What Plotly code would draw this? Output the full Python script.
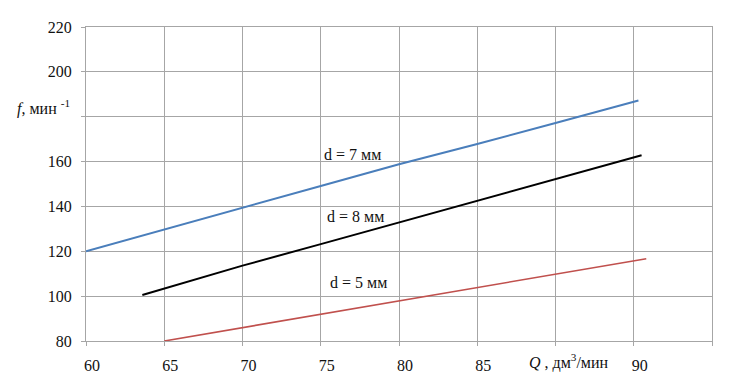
import plotly.graph_objects as go

# Data (x in grid units of the horizontal axis, y in min^-1)
q_d7 = [60, 65, 70, 75, 80, 85, 90, 95.3]
f_d7 = [120, 129.8, 139.5, 149.1, 158.8, 167.8, 177.2, 187.2]

q_d8 = [63.6, 70, 75, 80, 85, 90, 95.5]
f_d8 = [100.5, 113.6, 123.2, 132.8, 142.6, 152.1, 162.8]

q_d5 = [65, 70, 75, 80, 85, 90, 95.8]
f_d5 = [80, 86.0, 92.0, 98.0, 104.0, 109.9, 116.7]

x_tickvals = [60, 65, 70, 75, 80, 85, 90, 95, 100]
x_ticktext = ["60", "65", "70", "75", "80", "85", "", "90", ""]
y_tickvals = [80, 100, 120, 140, 160, 180, 200, 220]
y_ticktext = ["80", "100", "120", "140", "160", "", "200", "220"]

labels = ["d = 7 мм", "d = 8 мм", "d = 5 мм"]
label_x = [77.0, 77.2, 77.4]
label_y = [163.3, 135.5, 106.1]

FONT = "'Times New Roman', 'Liberation Serif', 'DejaVu Serif', serif"
GRID = "#a6a6a6"

fig = go.Figure()
fig.add_trace(go.Scatter(x=q_d7, y=f_d7, mode="lines", line=dict(color="#4a7ebb", width=2), name="d = 7 мм"))
fig.add_trace(go.Scatter(x=q_d8, y=f_d8, mode="lines", line=dict(color="#000000", width=2), name="d = 8 мм"))
fig.add_trace(go.Scatter(x=q_d5, y=f_d5, mode="lines", line=dict(color="#c0504d", width=1.6), name="d = 5 мм"))

for t, x, y in zip(labels, label_x, label_y):
    fig.add_annotation(x=x, y=y, xref="x", yref="y", text=t, showarrow=False,
                       font=dict(family=FONT, size=16, color="#111"))

fig.add_annotation(x=90.85, y=-0.066, xref="x", yref="paper",
                   text="<i>Q</i> , дм<sup>3</sup>/мин", showarrow=False,
                   yanchor="middle", font=dict(family=FONT, size=16, color="#111"))
fig.add_annotation(x=-0.022, y=184, xref="paper", yref="y", xanchor="right",
                   text="<i>f</i>, мин <sup>-1</sup>", showarrow=False,
                   font=dict(family=FONT, size=16, color="#111"))

# page body adds an 8px offset; compensate in size/margins
fig.update_layout(
    width=722, height=379,
    margin=dict(l=78, r=18, t=19, b=46),
    paper_bgcolor="white", plot_bgcolor="white",
    showlegend=False,
    font=dict(family=FONT, size=16, color="#111"),
    xaxis=dict(range=[60, 100], tickvals=x_tickvals, ticktext=x_ticktext,
               showgrid=True, gridcolor=GRID, gridwidth=1,
               showline=True, linecolor=GRID, mirror=True,
               ticks="outside", ticklen=4, tickcolor=GRID,
               ticklabelstandoff=6, ticklabelshift=6, zeroline=False,
               tickfont=dict(family=FONT, size=16)),
    yaxis=dict(range=[80, 220], tickvals=y_tickvals, ticktext=y_ticktext,
               showgrid=True, gridcolor=GRID, gridwidth=1,
               showline=True, linecolor=GRID, mirror=True,
               ticks="outside", ticklen=4, tickcolor=GRID,
               ticklabelstandoff=6, zeroline=False,
               tickfont=dict(family=FONT, size=16)),
)

fig.write_html("out.html")
